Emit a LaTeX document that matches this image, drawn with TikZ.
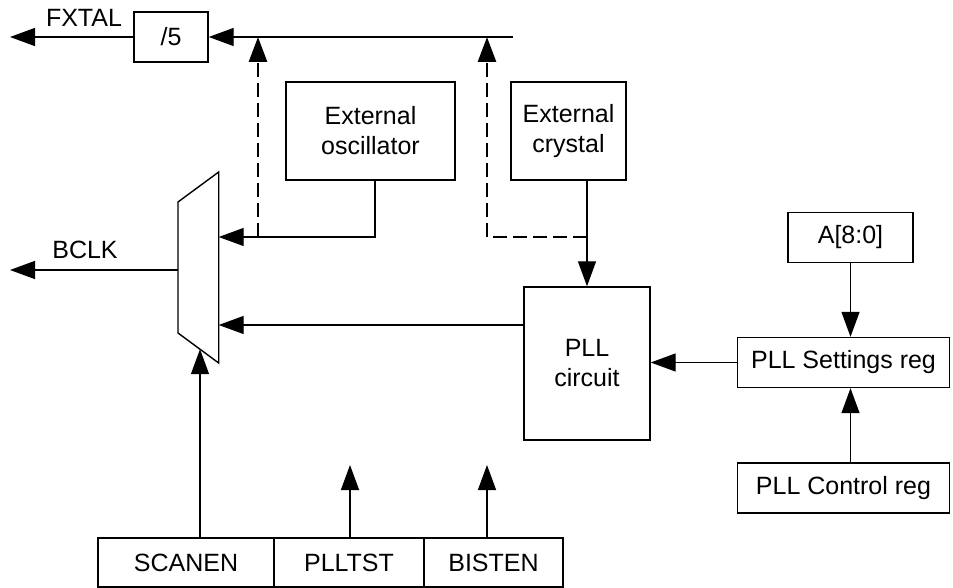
\documentclass[tikz,border=0pt]{standalone}
\usepackage{fontspec}
\setmainfont{Liberation Sans}
\usetikzlibrary{arrows.meta}

\begin{document}
\begin{tikzpicture}[x=0.5pt,y=-0.5pt,line width=0.7pt,>={Triangle[length=12.5pt,width=9pt]},
    main node/.style={draw,font=\fontsize{12.5}{15}\selectfont,align=center,inner sep=0pt},
    text node/.style={font=\fontsize{12.5}{15}\selectfont,inner sep=0pt},
    dash line/.style={dash pattern=on 7pt off 3pt,line width=1.4pt}]
    \useasboundingbox (0,0) rectangle (953,588);
    % boxes
    \node[main node,minimum width=37pt,minimum height=25pt] (div) at (171,37) {/5};
    \node[main node,minimum width=84.5pt,minimum height=49pt] (osc) at (370.5,131) {External\\oscillator};
    \node[main node,minimum width=57.5pt,minimum height=49pt] (xtal) at (568.5,131) {External\\crystal};
    \node[main node,minimum width=63pt,minimum height=76.5pt] (pll) at (587,363.5) {PLL\\circuit};
    \node[main node,minimum width=62.5pt,minimum height=25pt] (addr) at (850.5,237.5) {A[8:0]};
    \node[main node,minimum width=106pt,minimum height=25pt] (set) at (843.5,362.5) {PLL Settings reg};
    \node[main node,minimum width=106pt,minimum height=25pt] (ctrl) at (843.5,488) {PLL Control reg};
    \node[main node,minimum width=88pt,minimum height=24.5pt] (scan) at (186,562.5) {SCANEN};
    \node[main node,minimum width=75pt,minimum height=24.5pt] (plltst) at (349,562.5) {PLLTST};
    \node[main node,minimum width=69.5pt,minimum height=24.5pt] (bist) at (493.5,562.5) {BISTEN};
    \node[text node] (fxtal) at (84,18) {FXTAL};
    \node[text node] (bclk) at (85,250) {BCLK};
    % mux
    \draw (178,202) -- (218.7,172) -- (218.7,363) -- (178,333) -- cycle;
    \coordinate (mux a) at (218.7,237);
    \coordinate (mux b) at (218.7,325);
    \coordinate (mux out) at (178,270);
    \coordinate (mux s) at (200,349.2);
    \coordinate (fx) at (10,37);
    \coordinate (bclk end) at (10,270);
    \coordinate (top) at (513,37);
    \coordinate (j1) at (258,237);
    \coordinate (j3) at (487,37);
    \coordinate (t1) at (350,465);
    \coordinate (t2) at (487,465);
    % connectors
    \draw[->] (div.west) -- (fx);
    \draw[->] (top) -- (div.east);
    \draw[->] (mux out) -- (bclk end);
    \draw[->] ([xshift=2.25pt]osc.south) |- (mux a);
    \draw[dash line,->] (j1) -- (j1 |- div.east);
    \draw[dash line,->] (pll.north |- mux a) -| (j3);
    \draw[->] (xtal.south -| pll.north) -- (pll.north);
    \draw[->] (pll.west |- mux b) -- (mux b);
    \draw[->] (set.west) -- (set.west -| pll.east);
    \draw[->] (addr.south) -- (addr.south |- set.north);
    \draw[->] (ctrl.north -| addr.south) -- (addr.south |- set.south);
    \draw[->] (scan.north -| mux s) -- (mux s);
    \draw[->] (t1 |- plltst.north) -- (t1);
    \draw[->] (t2 |- bist.north) -- (t2);
\end{tikzpicture}
\end{document}
